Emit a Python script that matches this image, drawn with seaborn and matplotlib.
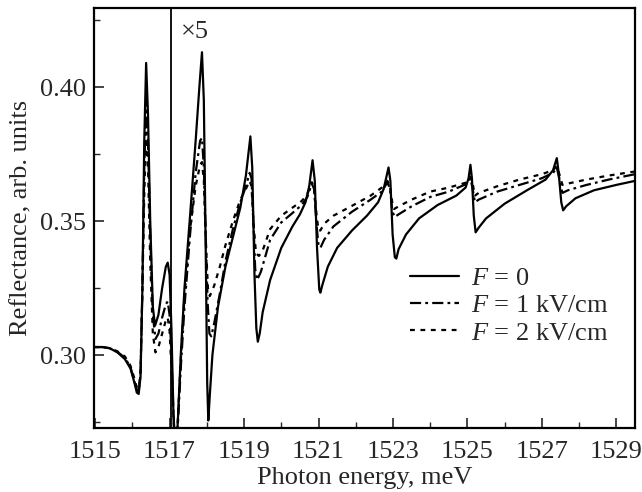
import numpy as np
import pandas as pd
import matplotlib
matplotlib.use("Agg")
import matplotlib.pyplot as plt
import seaborn as sns
from matplotlib.ticker import MultipleLocator

# ---------------- data ----------------
x_f0 = [1514.97, 1515.2, 1515.4, 1515.6, 1515.8, 1515.95, 1516.05, 1516.12, 1516.17, 1516.22,
        1516.27, 1516.32, 1516.37, 1516.42, 1516.48, 1516.55, 1516.61, 1516.7, 1516.8, 1516.9,
        1516.95, 1517.0, 1517.05, 1517.1, 1517.14, 1517.17, 1517.22, 1517.3, 1517.4, 1517.55,
        1517.7, 1517.8, 1517.87, 1517.92, 1517.97, 1518.01, 1518.04, 1518.08, 1518.15, 1518.3,
        1518.5, 1518.7, 1518.9, 1519.05, 1519.17, 1519.22, 1519.28, 1519.33, 1519.37, 1519.42,
        1519.5, 1519.7, 1520.0, 1520.3, 1520.5, 1520.65, 1520.75, 1520.84, 1520.9, 1520.96,
        1521.02, 1521.05, 1521.1, 1521.25, 1521.5, 1521.9, 1522.3, 1522.6, 1522.75, 1522.88,
        1522.93, 1522.99, 1523.05, 1523.09, 1523.15, 1523.35, 1523.7, 1524.2, 1524.7, 1524.95,
        1525.03, 1525.08, 1525.12, 1525.17, 1525.22, 1525.3, 1525.5, 1526.0, 1526.6, 1527.1,
        1527.3, 1527.4, 1527.45, 1527.52, 1527.57, 1527.65, 1527.9, 1528.4, 1529.0, 1529.5]
r_f0 = [0.3030, 0.3030, 0.3025, 0.3010, 0.2985, 0.2950, 0.2900, 0.2860, 0.2855, 0.2920,
        0.3250, 0.3800, 0.4090, 0.3900, 0.3500, 0.3180, 0.3110, 0.3150, 0.3250, 0.3330,
        0.3345, 0.3300, 0.3100, 0.2800, 0.2650, 0.2620, 0.2750, 0.3000, 0.3250, 0.3520,
        0.3800, 0.4000, 0.4130, 0.3950, 0.3400, 0.2900, 0.2756, 0.2850, 0.3000, 0.3180,
        0.3330, 0.3440, 0.3550, 0.3670, 0.3816, 0.3700, 0.3300, 0.3100, 0.3050, 0.3080,
        0.3160, 0.3280, 0.3400, 0.3480, 0.3525, 0.3570, 0.3630, 0.3727, 0.3650, 0.3400,
        0.3245, 0.3233, 0.3260, 0.3330, 0.3400, 0.3465, 0.3520, 0.3570, 0.3620, 0.3700,
        0.3650, 0.3450, 0.3365, 0.3360, 0.3395, 0.3450, 0.3510, 0.3560, 0.3595, 0.3625,
        0.3660, 0.3710, 0.3660, 0.3520, 0.3458, 0.3475, 0.3510, 0.3565, 0.3615, 0.3655,
        0.3690, 0.3735, 0.3680, 0.3570, 0.3540, 0.3555, 0.3585, 0.3615, 0.3635, 0.3650]

x_f1 = [1514.97, 1515.2, 1515.4, 1515.6, 1515.8, 1515.95, 1516.05, 1516.12, 1516.17, 1516.22,
        1516.27, 1516.32, 1516.37, 1516.42, 1516.48, 1516.55, 1516.62, 1516.7, 1516.8, 1516.9,
        1516.95, 1517.0, 1517.05, 1517.1, 1517.15, 1517.2, 1517.3, 1517.4, 1517.55, 1517.7,
        1517.82, 1517.87, 1517.92, 1517.97, 1518.02, 1518.07, 1518.12, 1518.2, 1518.35, 1518.5,
        1518.7, 1518.9, 1519.05, 1519.15, 1519.2, 1519.25, 1519.3, 1519.35, 1519.45, 1519.7,
        1520.0, 1520.3, 1520.55, 1520.7, 1520.82, 1520.88, 1520.95, 1521.0, 1521.05, 1521.15,
        1521.4, 1521.9, 1522.4, 1522.7, 1522.85, 1522.92, 1522.98, 1523.04, 1523.15, 1523.5,
        1524.0, 1524.5, 1525.0, 1525.08, 1525.14, 1525.2, 1525.3, 1525.8, 1526.4, 1527.0,
        1527.3, 1527.4, 1527.48, 1527.55, 1527.7, 1528.2, 1528.8, 1529.5]
r_f1 = [0.3030, 0.3030, 0.3025, 0.3012, 0.2990, 0.2955, 0.2905, 0.2870, 0.2865, 0.2930,
        0.3250, 0.3700, 0.3950, 0.3800, 0.3450, 0.3150, 0.3060, 0.3080, 0.3140, 0.3190,
        0.3200, 0.3150, 0.3000, 0.2800, 0.2650, 0.2680, 0.2950, 0.3180, 0.3450, 0.3680,
        0.3800, 0.3810, 0.3700, 0.3450, 0.3200, 0.3080, 0.3070, 0.3120, 0.3230, 0.3350,
        0.3470, 0.3570, 0.3630, 0.3680, 0.3660, 0.3500, 0.3320, 0.3280, 0.3310, 0.3430,
        0.3495, 0.3530, 0.3560, 0.3590, 0.3640, 0.3620, 0.3480, 0.3410, 0.3400, 0.3430,
        0.3480, 0.3535, 0.3580, 0.3610, 0.3645, 0.3620, 0.3540, 0.3515, 0.3525, 0.3555,
        0.3590, 0.3610, 0.3640, 0.3660, 0.3620, 0.3570, 0.3580, 0.3610, 0.3635, 0.3660,
        0.3680, 0.3700, 0.3650, 0.3605, 0.3615, 0.3635, 0.3655, 0.3675]

x_f2 = [1514.97, 1515.2, 1515.4, 1515.6, 1515.8, 1515.95, 1516.05, 1516.12, 1516.17, 1516.22,
        1516.27, 1516.32, 1516.37, 1516.42, 1516.48, 1516.55, 1516.62, 1516.7, 1516.8, 1516.9,
        1516.95, 1517.0, 1517.05, 1517.1, 1517.15, 1517.2, 1517.3, 1517.4, 1517.55, 1517.7,
        1517.82, 1517.87, 1517.92, 1517.98, 1518.03, 1518.08, 1518.2, 1518.35, 1518.5, 1518.7,
        1518.9, 1519.05, 1519.15, 1519.2, 1519.25, 1519.32, 1519.4, 1519.5, 1519.7, 1520.0,
        1520.3, 1520.55, 1520.7, 1520.82, 1520.88, 1520.95, 1521.0, 1521.05, 1521.15, 1521.4,
        1521.9, 1522.4, 1522.7, 1522.85, 1522.92, 1522.98, 1523.03, 1523.15, 1523.5, 1524.0,
        1524.5, 1525.0, 1525.08, 1525.14, 1525.2, 1525.3, 1525.8, 1526.4, 1527.0, 1527.3,
        1527.4, 1527.48, 1527.55, 1527.7, 1528.2, 1528.8, 1529.5]
r_f2 = [0.3030, 0.3030, 0.3026, 0.3014, 0.2995, 0.2960, 0.2915, 0.2880, 0.2875, 0.2940,
        0.3250, 0.3600, 0.3830, 0.3700, 0.3350, 0.3080, 0.3010, 0.3030, 0.3080, 0.3130,
        0.3140, 0.3090, 0.2950, 0.2780, 0.2650, 0.2700, 0.2980, 0.3220, 0.3470, 0.3630,
        0.3710, 0.3720, 0.3650, 0.3400, 0.3250, 0.3220, 0.3260, 0.3330, 0.3410, 0.3500,
        0.3580, 0.3620, 0.3650, 0.3630, 0.3500, 0.3380, 0.3370, 0.3390, 0.3470, 0.3520,
        0.3550, 0.3575, 0.3600, 0.3645, 0.3625, 0.3520, 0.3465, 0.3465, 0.3490, 0.3520,
        0.3557, 0.3595, 0.3625, 0.3650, 0.3630, 0.3570, 0.3545, 0.3555, 0.3580, 0.3610,
        0.3625, 0.3645, 0.3665, 0.3640, 0.3595, 0.3605, 0.3630, 0.3655, 0.3675, 0.3690,
        0.3705, 0.3670, 0.3635, 0.3640, 0.3655, 0.3670, 0.3685]

labels = ["$F$ = 0", "$F$ = 1 kV/cm", "$F$ = 2 kV/cm"]
x_ticks_major = [1515, 1517, 1519, 1521, 1523, 1525, 1527, 1529]
y_ticks_major = [0.30, 0.35, 0.40]
marker_x = 1517.03
marker_text = "×5"

# ---------------- style ----------------
sns.set_style("ticks")
plt.rcParams['font.family'] = ['Liberation Serif', 'DejaVu Serif']
plt.rcParams['mathtext.fontset'] = 'custom'
plt.rcParams['mathtext.rm'] = 'Liberation Serif'
plt.rcParams['mathtext.it'] = 'Liberation Serif:italic'
plt.rcParams['lines.scale_dashes'] = False

FS = 19

fig = plt.figure(figsize=(6.42, 4.92), dpi=100)
ax = fig.add_axes([94/642, 1 - 428/492, (635 - 94)/642, (428 - 8)/492])

series = [(x_f0, r_f0), (x_f1, r_f1), (x_f2, r_f2)]
dash_styles = [None, (0, (8, 3, 2, 3)), (0, (3.5, 4))]
handles = []
for (xs, ys), lab, ds in zip(series, labels, dash_styles):
    df = pd.DataFrame({"E": xs, "R": ys})
    sns.lineplot(data=df, x="E", y="R", ax=ax, color="black", lw=1.6,
                 estimator=None, sort=False, legend=False)
    ln = ax.lines[-1]
    if ds is not None:
        ln.set_linestyle(ds)
    ln.set_label(lab)
    handles.append(ln)

ax.axvline(marker_x, color="black", lw=1.3)
ax.text(marker_x + 0.28, 0.4205, marker_text, fontsize=FS, ha="left", va="center")

ax.set_xlim(1514.97, 1529.5)
ax.set_ylim(0.2728, 0.4295)
ax.set_xticks(x_ticks_major)
ax.xaxis.set_minor_locator(MultipleLocator(1))
ax.set_yticks(y_ticks_major)
ax.set_yticklabels([f"{v:.2f}" for v in y_ticks_major])
ax.yaxis.set_minor_locator(MultipleLocator(0.025))
ax.tick_params(which="major", direction="in", length=7, width=1.2, labelsize=FS,
               top=False, right=False)
ax.tick_params(axis="x", which="major", pad=9)
ax.tick_params(axis="y", which="major", pad=6)
ax.tick_params(which="minor", direction="in", length=4, width=1.0, top=False, right=False)
for sp in ax.spines.values():
    sp.set_linewidth(1.6)
    sp.set_color("black")

ax.set_xlabel("Photon energy, meV", fontsize=FS, labelpad=3)
ax.set_ylabel("Reflectance, arb. units", fontsize=FS, labelpad=5)

ax.legend(handles=handles, loc="upper left", bbox_to_anchor=(0.585, 0.385),
          frameon=False, fontsize=FS, handlelength=1.85, handletextpad=0.45,
          labelspacing=0.15, borderpad=0, borderaxespad=0)

fig.savefig("out.png", dpi=100)
